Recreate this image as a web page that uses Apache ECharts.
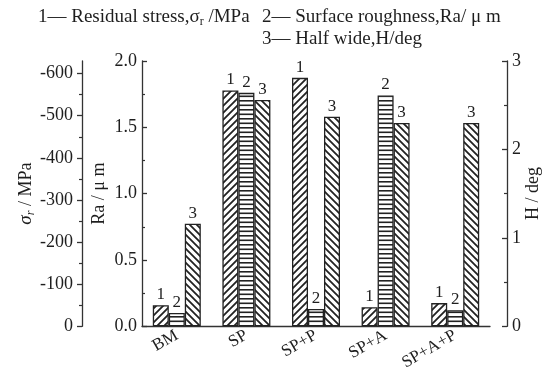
<!DOCTYPE html>
<html><head><meta charset="utf-8">
<script src="https://cdn.jsdelivr.net/npm/echarts@6/dist/echarts.min.js"></script>
<style>html,body{margin:0;padding:0;background:#fff}#c{width:557px;height:373px}</style>
</head><body><div id="c"></div>
<script>
const categories = ['BM', 'SP', 'SP+P', 'SP+A', 'SP+A+P'];
const residualStress = [-50, -560, -590, -45, -55];   // MPa
const roughness = [0.10, 1.76, 0.13, 1.74, 0.12];     // Ra / μm
const halfWidth = [1.16, 2.56, 2.37, 2.30, 2.30];     // H / deg
const stressTicks = [0, -100, -200, -300, -400, -500, -600];
const stressMinorTicks = [-50, -150, -250, -350, -450, -550];
const legendLines = ['1— Residual stress,σ{sub|r} /MPa', '2— Surface roughness,Ra/ μ m', '3— Half wide,H/deg'];

const FF = 'Liberation Serif';
const TXT = '#1e1e1e';
const LINE = '#333';

function hatch(kind) {
  const c = document.createElement('canvas');
  const ctx = c.getContext('2d');
  if (kind === 'h') {
    c.width = 4; c.height = 9;
    ctx.fillStyle = '#fff'; ctx.fillRect(0, 0, 4, 9);
    ctx.fillStyle = '#222';
    ctx.fillRect(0, 1, 4, 1.6);
    ctx.fillRect(0, 5.5, 4, 1.6);
  } else {
    const s = 7;
    c.width = s; c.height = s;
    ctx.fillStyle = '#fff'; ctx.fillRect(0, 0, s, s);
    ctx.strokeStyle = '#222'; ctx.lineWidth = 1.8;
    ctx.beginPath();
    if (kind === '/') {
      ctx.moveTo(-1, s + 1); ctx.lineTo(s + 1, -1);
      ctx.moveTo(-2, 2); ctx.lineTo(2, -2);
      ctx.moveTo(s - 2, s + 2); ctx.lineTo(s + 2, s - 2);
    } else {
      ctx.moveTo(-1, -1); ctx.lineTo(s + 1, s + 1);
      ctx.moveTo(-2, s - 2); ctx.lineTo(2, s + 2);
      ctx.moveTo(s - 2, -2); ctx.lineTo(s + 2, 2);
    }
    ctx.stroke();
  }
  return { image: c, repeat: 'repeat' };
}

const chart = echarts.init(document.getElementById('c'), null, { renderer: 'canvas' });
const labelStyle = { show: true, position: 'outside', distance: 2, fontSize: 17, fontFamily: FF, color: TXT };
const barBase = { type: 'bar', barWidth: 16, barGap: '0%' };
const axisTextStyle = { fontSize: 18, fontFamily: FF, color: TXT };

chart.setOption({
  animation: false,
  backgroundColor: '#fff',
  grid: { left: 142, right: 67, top: 61, bottom: 46 },
  graphic: [
    { type: 'text', left: 38, top: 6, style: { text: legendLines[0], fontSize: 19, fontFamily: FF, fill: TXT, lineHeight: 22,
      rich: { sub: { fontSize: 12, fontFamily: FF, fill: TXT, lineHeight: 6, verticalAlign: 'bottom' } } } },
    { type: 'text', left: 262, top: 6, style: { text: legendLines[1], fontSize: 19, fontFamily: FF, fill: TXT, lineHeight: 22 } },
    { type: 'text', left: 262, top: 28, style: { text: legendLines[2], fontSize: 19, fontFamily: FF, fill: TXT, lineHeight: 22 } }
  ],
  xAxis: {
    type: 'category', data: categories,
    axisLine: { lineStyle: { color: LINE, width: 1.3 } },
    axisTick: { show: false },
    axisLabel: { rotate: 30, margin: 8, fontSize: 17, fontFamily: FF, color: TXT, interval: 0 }
  },
  yAxis: [
    {
      type: 'value', position: 'left', offset: 60, inverse: true, min: -630, max: 0,
      name: '{s|σ}{sub|r} / MPa', nameLocation: 'middle', nameRotate: 90, nameGap: 45, nameMoveOverlap: false,
      nameTextStyle: { fontSize: 18, fontFamily: FF, color: TXT,
        rich: { s: { fontSize: 19, fontFamily: FF, fontStyle: 'italic', color: TXT, lineHeight: 22 },
                sub: { fontSize: 12, fontFamily: FF, fontStyle: 'italic', color: TXT, lineHeight: 6, verticalAlign: 'bottom' } } },
      axisLine: { show: true, lineStyle: { color: LINE, width: 1.3 } },
      axisTick: { show: true, inside: false, length: 5, customValues: stressTicks, lineStyle: { color: LINE, width: 1.3 } },
      axisLabel: { customValues: stressTicks, margin: 9, ...axisTextStyle },
      splitLine: { show: false }
    },
    {
      type: 'value', position: 'left', offset: 60, inverse: true, min: -630, max: 0,
      axisLine: { show: false },
      axisTick: { show: true, inside: false, length: 3, customValues: stressMinorTicks, lineStyle: { color: LINE, width: 1.2 } },
      axisLabel: { show: false },
      splitLine: { show: false }
    },
    {
      type: 'value', position: 'left', offset: 0, min: 0, max: 2, interval: 0.5,
      name: 'Ra / μ m', nameLocation: 'middle', nameRotate: 90, nameGap: 34, nameMoveOverlap: false,
      nameTextStyle: { fontSize: 18, fontFamily: FF, color: TXT },
      axisLine: { show: true, lineStyle: { color: LINE, width: 1.3 } },
      axisTick: { show: true, inside: true, length: 5, lineStyle: { color: LINE, width: 1.3 } },
      minorTick: { show: true, splitNumber: 2, length: 3, lineStyle: { color: LINE, width: 1.2 } },
      axisLabel: { margin: 5, formatter: v => v.toFixed(1), ...axisTextStyle },
      splitLine: { show: false }
    },
    {
      type: 'value', position: 'right', offset: 17, min: 0, max: 3, interval: 1,
      name: 'H / deg', nameLocation: 'middle', nameRotate: 90, nameGap: 17, nameMoveOverlap: false,
      nameTextStyle: { fontSize: 18, fontFamily: FF, color: TXT },
      axisLine: { show: true, lineStyle: { color: LINE, width: 1.3 } },
      axisTick: { show: true, inside: true, length: 5, lineStyle: { color: LINE, width: 1.3 } },
      minorTick: { show: true, splitNumber: 2, length: 3, lineStyle: { color: LINE, width: 1.2 } },
      axisLabel: { margin: 5, ...axisTextStyle },
      splitLine: { show: false }
    }
  ],
  series: [
    { ...barBase, name: 'Residual stress', yAxisIndex: 0, data: residualStress,
      itemStyle: { color: hatch('/'), borderColor: '#222', borderWidth: 1.3 },
      label: { ...labelStyle, formatter: '1' } },
    { ...barBase, name: 'Surface roughness', yAxisIndex: 2, data: roughness,
      itemStyle: { color: hatch('h'), borderColor: '#222', borderWidth: 1.3 },
      label: { ...labelStyle, formatter: '2' } },
    { ...barBase, name: 'Half wide', yAxisIndex: 3, data: halfWidth,
      itemStyle: { color: hatch('\\'), borderColor: '#222', borderWidth: 1.3 },
      label: { ...labelStyle, formatter: '3' } }
  ]
});
</script>
</body></html>
